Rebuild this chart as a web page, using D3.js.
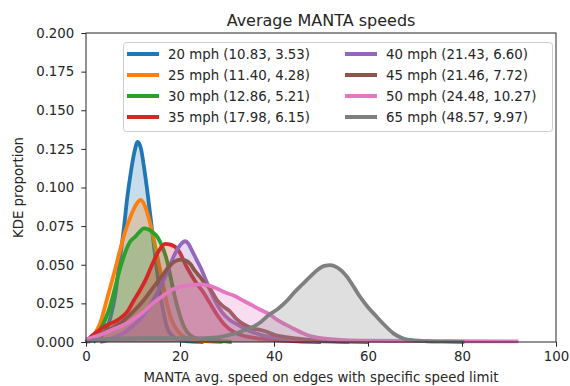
<!DOCTYPE html>
<html>
<head>
<meta charset="utf-8">
<script src="https://cdn.jsdelivr.net/npm/d3@7"></script>
<style>
  html, body { margin: 0; padding: 0; background: #fff; }
  svg { display: block; font-family: "DejaVu Sans", sans-serif; }
</style>
</head>
<body>
<svg id="chart" width="570" height="386"></svg>
<script>
// ---- data (x = speed, y = KDE proportion) ----
const seriesLabels = [
  "20 mph (10.83, 3.53)", "25 mph (11.40, 4.28)", "30 mph (12.86, 5.21)", "35 mph (17.98, 6.15)",
  "40 mph (21.43, 6.60)", "45 mph (21.46, 7.72)", "50 mph (24.48, 10.27)", "65 mph (48.57, 9.97)"
];
const seriesColors = ["#1f77b4", "#ff7f0e", "#2ca02c", "#d62728", "#9467bd", "#8c564b", "#e377c2", "#7f7f7f"];

const kde20 = [[1.5,0],[2,0.001],[3.3,0.004],[4.3,0.008],[5.3,0.017],[6.2,0.03],[7.1,0.051],[8,0.072],[8.8,0.094],[9.6,0.111],[10.3,0.123],[11,0.1295],[11.7,0.125],[12.4,0.112],[13.2,0.094],[14,0.074],[14.9,0.051],[15.7,0.033],[16.5,0.019],[17.3,0.009],[18.4,0.004],[20,0.0012],[22,0.0004],[25,0]];
const kde25 = [[0.5,0],[1,0.002],[2,0.006],[3,0.012],[4.4,0.027],[5.3,0.037],[6.2,0.047],[7.2,0.059],[8.3,0.071],[9.2,0.079],[10,0.085],[11,0.0905],[11.6,0.092],[12.4,0.089],[13.2,0.082],[14.1,0.071],[15,0.058],[15.8,0.046],[16.9,0.029],[18,0.016],[19.3,0.008],[20.5,0.004],[22.5,0.0015],[25,0.0005],[29,0]];
const kde30 = [[0.5,0],[1.2,0.002],[2,0.004],[3,0.008],[4,0.014],[5,0.022],[6,0.033],[7.1,0.046],[8,0.055],[8.6,0.06],[9.4,0.065],[10.4,0.068],[11.3,0.071],[12.3,0.0736],[13.2,0.073],[14.2,0.071],[15.2,0.068],[16.2,0.062],[17.2,0.053],[18,0.042],[19,0.028],[20,0.017],[21,0.009],[22.3,0.004],[24,0.002],[27,0.001],[31,0]];
const kde35 = [[0,0],[1,0.0034],[2.5,0.007],[4.5,0.011],[6.7,0.0142],[8.8,0.0196],[10.2,0.027],[11.4,0.033],[12.8,0.041],[14.2,0.051],[15.5,0.059],[16.8,0.0635],[18,0.063],[19.7,0.0592],[21.4,0.0487],[23.3,0.039],[25,0.032],[26.4,0.025],[27.8,0.018],[29.7,0.0105],[31.6,0.0062],[34,0.0036],[36.5,0.0024],[40,0.0013],[45,0.0005],[50,0]];
const kde40 = [[3,0],[4.5,0.0012],[6,0.003],[8,0.0058],[10,0.0105],[12,0.0165],[14,0.0255],[16,0.037],[17.5,0.047],[18.6,0.055],[19.6,0.0608],[20.4,0.064],[21.1,0.0652],[21.8,0.0635],[22.5,0.0595],[23.4,0.054],[24.3,0.0487],[25.8,0.038],[27.4,0.027],[29,0.019],[30.5,0.0145],[32.4,0.011],[34.5,0.0075],[37.4,0.0045],[41.6,0.0024],[46,0.001],[52,0.0002],[56,0]];
const kde45 = [[0.5,0],[1,0.001],[2.5,0.0042],[4,0.0068],[6,0.0098],[8,0.0138],[10,0.0195],[12,0.026],[14,0.034],[16,0.042],[18,0.05],[19.3,0.0528],[20.2,0.0533],[21.2,0.0527],[22.2,0.0505],[23.2,0.046],[24.3,0.042],[25.3,0.038],[26.4,0.0345],[27.8,0.0275],[29,0.0235],[30.4,0.0205],[32,0.015],[33.8,0.011],[35.5,0.0088],[37.4,0.0076],[39,0.006],[40.2,0.0045],[42.5,0.0032],[44.5,0.0024],[48.7,0.0013],[54,0.0004],[60,0]];
const kde50 = [[0,0.0017],[2,0.0035],[4,0.0058],[6,0.0085],[8,0.011],[10.4,0.0155],[12,0.019],[14,0.0245],[16,0.029],[17.9,0.0333],[19.5,0.0352],[20.7,0.0362],[22.5,0.037],[24.5,0.0373],[26,0.0366],[27.8,0.0347],[29.5,0.0322],[31.3,0.0302],[33.8,0.0262],[35.5,0.0235],[37,0.021],[38.8,0.0184],[40.6,0.0145],[42.5,0.0112],[44.3,0.0084],[46,0.0058],[47.7,0.0038],[50,0.0025],[55,0.0012],[60,0.0008],[70,0.0006],[80,0.0005],[92,0.0004]];
const kde65 = [[0,0],[2,0.0014],[5,0.002],[10,0.0024],[15,0.0025],[20,0.0025],[23.3,0.0024],[27.8,0.003],[30.3,0.0045],[32.2,0.006],[33.8,0.0078],[35.5,0.0098],[37.2,0.013],[39,0.0178],[40.8,0.0214],[42.5,0.026],[44.3,0.032],[46,0.0372],[47.7,0.0423],[49.3,0.0468],[50.7,0.0493],[52,0.0498],[53.3,0.0485],[54.4,0.046],[55.5,0.0423],[57,0.0355],[58.3,0.0293],[60,0.0225],[61.9,0.0162],[63.5,0.011],[65.4,0.0056],[67.5,0.0023],[70,0.001],[72.5,0.0005],[76,0.0002],[80.5,0]];
const allSeries = [kde20, kde25, kde30, kde35, kde40, kde45, kde50, kde65];

const xTicks = [0, 20, 40, 60, 80, 100];
const yTicks = [0, 0.025, 0.05, 0.075, 0.1, 0.125, 0.15, 0.175, 0.2];

// ---- layout ----
const FS = 13.33;
const svg = d3.select("#chart");
const L = 86, R = 556, T = 33, B = 342;
const x = d3.scaleLinear().domain([0, 100]).range([L, R]);
const y = d3.scaleLinear().domain([0, 0.2]).range([B, T]);

const area = d3.area().x(d => x(d[0])).y0(y(0)).y1(d => y(d[1])).curve(d3.curveMonotoneX);
const line = d3.line().x(d => x(d[0])).y(d => y(d[1])).curve(d3.curveMonotoneX);

const plot = svg.append("g");
allSeries.forEach((s, i) => {
  plot.append("path").attr("d", area(s)).attr("fill", seriesColors[i]).attr("fill-opacity", 0.25).attr("stroke", "none");
  plot.append("path").attr("d", line(s)).attr("fill", "none").attr("stroke", seriesColors[i])
      .attr("stroke-width", 3.8).attr("stroke-linejoin", "round").attr("stroke-linecap", "butt");
});

// axes
const xAxis = d3.axisBottom(x).tickValues(xTicks).tickSize(4.7).tickPadding(5).tickFormat(d3.format("d"));
const yAxis = d3.axisLeft(y).tickValues(yTicks).tickSize(4.7).tickPadding(7).tickFormat(d3.format(".3f"));
const gx = svg.append("g").attr("transform", `translate(0,${B})`).call(xAxis);
const gy = svg.append("g").attr("transform", `translate(${L},0)`).call(yAxis);
[gx, gy].forEach(g => {
  g.select(".domain").remove();
  g.selectAll("text").attr("font-size", FS).attr("fill", "#262626").attr("font-family", "DejaVu Sans, sans-serif");
  g.selectAll("line").attr("stroke", "#262626");
});

// spines
svg.append("rect").attr("x", L).attr("y", T).attr("width", R - L).attr("height", B - T)
   .attr("fill", "none").attr("stroke", "#262626").attr("stroke-width", 1);

// title & labels
svg.append("text").attr("x", (L + R) / 2).attr("y", 26).attr("text-anchor", "middle")
   .attr("font-size", 16).attr("fill", "#262626").text("Average MANTA speeds");
svg.append("text").attr("x", (L + R) / 2).attr("y", 382).attr("text-anchor", "middle")
   .attr("font-size", FS).attr("fill", "#262626").text("MANTA avg. speed on edges with specific speed limit");
svg.append("text").attr("transform", `translate(23,${(T + B) / 2}) rotate(-90)`).attr("text-anchor", "middle")
   .attr("font-size", FS).attr("fill", "#262626").text("KDE proportion");

// legend
const lg = svg.append("g");
lg.append("rect").attr("x", 123.5).attr("y", 42.5).attr("width", 429).attr("height", 89).attr("rx", 3)
  .attr("fill", "#fff").attr("fill-opacity", 0.8).attr("stroke", "#cccccc").attr("stroke-width", 1);
const colX = [127, 345];
const rowY = [54, 75, 96, 117];
seriesLabels.forEach((lab, i) => {
  const c = Math.floor(i / 4), r = i % 4;
  lg.append("line").attr("x1", colX[c]).attr("x2", colX[c] + 32).attr("y1", rowY[r]).attr("y2", rowY[r])
    .attr("stroke", seriesColors[i]).attr("stroke-width", 4);
  lg.append("text").attr("x", colX[c] + 41).attr("y", rowY[r] + 5).attr("font-size", FS)
    .attr("fill", "#262626").text(lab);
});
</script>
</body>
</html>
